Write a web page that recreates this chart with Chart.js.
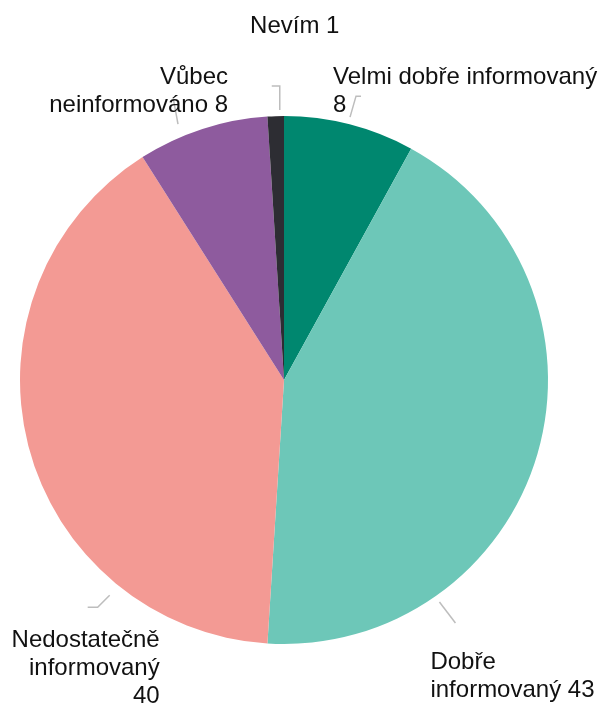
<!DOCTYPE html>
<html>
<head>
<meta charset="utf-8">
<script src="https://cdn.jsdelivr.net/npm/chart.js@4"></script>
<style>
  html, body { margin: 0; padding: 0; background: #fff; }
  canvas { display: block; }
</style>
</head>
<body>
<canvas id="pieChart" width="598" height="709"></canvas>
<script>
// data
const categories = ['Velmi dobře informovaný', 'Dobře informovaný', 'Nedostatečně informovaný', 'Vůbec neinformováno', 'Nevím'];
const counts = [8, 43, 40, 8, 1];
const sliceColors = ['#00876f', '#6dc7b8', '#f39a94', '#8e5b9e', '#2d2d33'];

// how each label is broken into lines
const labelLines = [
  ['Velmi dobře informovaný', '8'],
  ['Dobře', 'informovaný 43'],
  ['Nedostatečně', 'informovaný', '40'],
  ['Vůbec', 'neinformováno 8'],
  ['Nevím 1']
];

// leader line: where it leaves the pie (deg from top, gap past the rim),
// its outward step, the elbow, and where the text sits relative to the end
const labelLayout = [
  { angle: 14.1, gap: 7, step: [6, -21], elbow: 5, text: [-23, -19], align: 'left' },
  { angle: 145, gap: 7, step: [16, 21], elbow: 0, text: [-25, 39], align: 'left' },
  { angle: 219, gap: 13, step: [-12, 12], elbow: -10, text: [62, 33], align: 'right' },
  { angle: 337.5, gap: 13, step: [-5, -27], elbow: 0, text: [55, -20], align: 'right' },
  { angle: 359.1, gap: 6, step: [0, -24], elbow: -8, text: [15, -60], align: 'center' }
];

const calloutPlugin = {
  id: 'callouts',
  afterDraw(chart) {
    const ctx = chart.ctx;
    const arcs = chart.getDatasetMeta(0).data;
    ctx.save();
    arcs.forEach((arc, i) => {
      const lay = labelLayout[i];
      const a = lay.angle * Math.PI / 180;
      const r = arc.outerRadius + lay.gap;
      const sx = arc.x + r * Math.sin(a);
      const sy = arc.y - r * Math.cos(a);
      const ex = sx + lay.step[0];
      const ey = sy + lay.step[1];

      ctx.strokeStyle = '#bdbdbd';
      ctx.lineWidth = 1.5;
      ctx.beginPath();
      ctx.moveTo(sx, sy);
      ctx.lineTo(ex, ey);
      if (lay.elbow) ctx.lineTo(ex + lay.elbow, ey);
      ctx.stroke();

      ctx.fillStyle = '#111';
      ctx.font = '24px "Liberation Sans", Arial, sans-serif';
      ctx.textAlign = lay.align;
      ctx.textBaseline = 'middle';
      const tx = ex + lay.text[0];
      let ty = ey + lay.text[1];
      labelLines[i].forEach(line => {
        ctx.fillText(line, tx, ty);
        ty += 28;
      });
    });
    ctx.restore();
  }
};

const ctx = document.getElementById('pieChart').getContext('2d');
const chart = new Chart(ctx, {
  type: 'pie',
  data: {
    labels: categories,
    datasets: [{
      data: counts,
      backgroundColor: sliceColors,
      borderWidth: 0
    }]
  },
  options: {
    responsive: false,
    animation: false,
    layout: { padding: { left: 20, right: 50, top: 116, bottom: 65 } },
    plugins: {
      legend: { display: false },
      tooltip: { enabled: false }
    }
  },
  plugins: [calloutPlugin]
});
</script>
</body>
</html>
